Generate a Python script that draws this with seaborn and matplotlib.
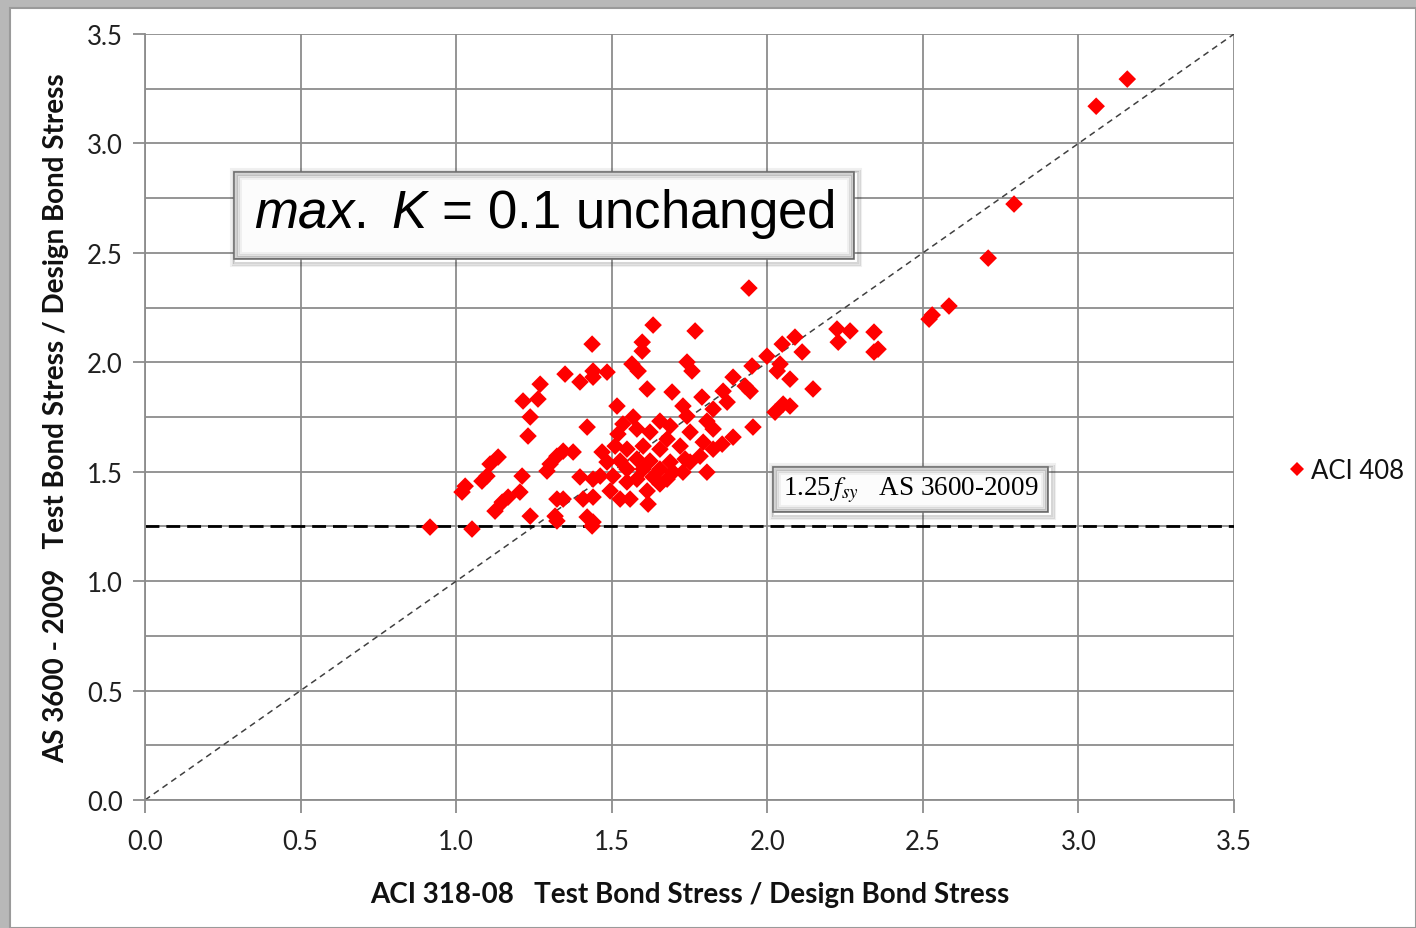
import matplotlib
matplotlib.use("Agg")
import matplotlib.pyplot as plt
import matplotlib.patches as mpatches
import seaborn as sns
import pandas as pd
import numpy as np

# ---- data (ACI 318-08 ratio, AS 3600-2009 ratio) ----
aci318 = [
    1.270, 1.215, 1.263, 1.238, 1.231, 1.135, 1.109, 1.099, 1.083, 1.029,
    1.019, 1.212, 1.324, 1.302, 1.292, 1.205, 1.167, 1.148, 1.125, 1.238,
    1.324, 1.318, 1.324, 0.916, 1.051,
    1.633, 1.437, 1.598, 1.598, 1.565, 1.585, 1.350, 1.398, 1.440, 1.440,
    1.485, 1.614, 1.694, 1.517, 1.421, 1.569, 1.536, 1.655, 1.688, 1.520,
    1.581, 1.623, 1.678, 1.344, 1.376, 1.469, 1.511, 1.549, 1.601, 1.655,
    1.485, 1.527, 1.581, 1.623, 1.688, 1.549, 1.601, 1.655, 1.697, 1.398,
    1.440, 1.504, 1.581, 1.633, 1.678, 1.549, 1.495, 1.614, 1.655, 1.559,
    1.527, 1.408, 1.440, 1.617, 1.344, 1.421, 1.440, 1.463, 1.437,
    1.768, 1.742, 1.758, 1.890, 1.929, 1.945, 1.858, 1.871, 1.790, 1.729,
    1.826, 1.742, 1.806, 1.826, 1.752, 1.890, 1.855, 1.826, 1.794, 1.784,
    1.736, 1.752, 1.806, 1.729, 1.720, 1.954, 1.951, 1.999, 2.048, 2.089,
    2.112, 2.041, 2.032, 2.073, 2.147, 2.051, 2.025, 2.073,
    1.941, 2.224, 2.266, 2.228, 2.343, 2.343, 2.356, 2.520, 2.530, 2.584,
    2.710, 2.793, 3.057, 3.157,
]
as3600 = [
    1.900, 1.823, 1.832, 1.750, 1.663, 1.567, 1.535, 1.480, 1.457, 1.434,
    1.407, 1.480, 1.571, 1.535, 1.503, 1.407, 1.384, 1.361, 1.320, 1.297,
    1.375, 1.297, 1.275, 1.247, 1.238,
    2.170, 2.083, 2.092, 2.051, 1.992, 1.960, 1.946, 1.910, 1.960, 1.932,
    1.955, 1.878, 1.864, 1.800, 1.704, 1.750, 1.718, 1.731, 1.709, 1.672,
    1.695, 1.681, 1.649, 1.594, 1.590, 1.590, 1.617, 1.603, 1.617, 1.603,
    1.544, 1.549, 1.558, 1.549, 1.544, 1.512, 1.512, 1.512, 1.498, 1.476,
    1.466, 1.480, 1.466, 1.476, 1.466, 1.453, 1.412, 1.412, 1.444, 1.375,
    1.375, 1.375, 1.384, 1.352, 1.375, 1.293, 1.270, 1.480, 1.252,
    2.143, 2.001, 1.960, 1.932, 1.891, 1.868, 1.868, 1.818, 1.841, 1.800,
    1.786, 1.754, 1.731, 1.695, 1.681, 1.658, 1.626, 1.603, 1.635, 1.571,
    1.558, 1.544, 1.498, 1.498, 1.617, 1.704, 1.983, 2.028, 2.083, 2.115,
    2.047, 1.992, 1.960, 1.923, 1.878, 1.809, 1.772, 1.800,
    2.339, 2.152, 2.143, 2.092, 2.138, 2.047, 2.060, 2.197, 2.216, 2.257,
    2.476, 2.723, 3.170, 3.294,
]
series_name = "ACI 408"
limit_value = 1.25
x_ticks = [0.0, 0.5, 1.0, 1.5, 2.0, 2.5, 3.0, 3.5]
y_ticks = [0.0, 0.5, 1.0, 1.5, 2.0, 2.5, 3.0, 3.5]
x_label = "ACI 318-08   Test Bond Stress / Design Bond Stress"
y_label = "AS 3600 - 2009   Test Bond Stress / Design Bond Stress"

df = pd.DataFrame({"aci": aci318, "as": as3600, "series": series_name})

sns.set_theme(style="white")
plt.rcParams["font.family"] = ["Lato", "DejaVu Sans"]
plt.rcParams["mathtext.fontset"] = "custom"
plt.rcParams["mathtext.rm"] = "Liberation Sans"
plt.rcParams["mathtext.it"] = "Liberation Sans:italic"

W, H = 1416, 929
fig = plt.figure(figsize=(W / 100, H / 100), dpi=100, facecolor="#b8b8b8")
# white page inside grey frame
page = mpatches.Rectangle((10 / W, 0), 1 - 10 / W, 1 - 9 / H,
                          transform=fig.transFigure, facecolor="white",
                          edgecolor="#9a9a9a", linewidth=1.5, zorder=-10)
fig.patches.append(page)

ax = fig.add_axes([145 / W, 1 - 801 / H, (1234 - 145) / W, (801 - 35) / H])
ax.set_zorder(1)
ax.set_facecolor("white")

ax.set_xlim(0, 3.5)
ax.set_ylim(0, 3.5)
ax.set_xticks(x_ticks)
ax.set_yticks(y_ticks)
ax.set_yticks(np.arange(0.25, 3.5, 0.5), minor=True)
ax.set_xticklabels([f"{v:.1f}" for v in x_ticks])
ax.set_yticklabels([f"{v:.1f}" for v in y_ticks])
ax.grid(True, which="major", color="#8c8c8c", linewidth=1.3)
ax.grid(True, which="minor", axis="y", color="#8c8c8c", linewidth=1.3)
ax.set_axisbelow(True)
for s in ["top", "right"]:
    ax.spines[s].set_visible(False)
for s in ["left", "bottom"]:
    ax.spines[s].set_color("#8c8c8c")
    ax.spines[s].set_linewidth(1.3)
ax.tick_params(axis="both", which="major", direction="out", length=9,
               width=1.3, color="#8c8c8c", labelsize=18.5, labelcolor="#202020",
               left=True, bottom=True)
ax.tick_params(axis="x", pad=12)
ax.tick_params(axis="y", pad=7)
ax.tick_params(which="minor", length=0)

# reference lines
ax.plot([0, 3.5], [0, 3.5], linestyle=(0, (4, 3)), color="#404040",
        linewidth=1.1, zorder=2)
ax.plot([0, 3.5], [limit_value, limit_value], linestyle=(0, (5, 2.5)),
        color="black", linewidth=2.0, zorder=2)

sns.scatterplot(data=df, x="aci", y="as", hue="series", palette=["#ff0000"],
                marker="D", s=80, linewidth=0, ax=ax, zorder=3, legend=True)

ax.set_xlabel(x_label, fontsize=20, fontweight="bold", color="#111111",
              labelpad=19)
ax.set_ylabel(y_label, fontsize=20, fontweight="bold", color="#111111",
              labelpad=13)

leg = ax.legend(loc="center left", bbox_to_anchor=(1.046, 0.43),
                frameon=False, fontsize=18.5, handletextpad=0.05,
                markerscale=0.8, borderaxespad=0, borderpad=0,
                handlelength=1.0)
for t in leg.get_texts():
    t.set_color("#111111")

# annotation boxes with soft shadow
def shadow_box(x0, y0, x1, y1):
    for k, a in [(5, 0.06), (3.5, 0.10), (2, 0.16)]:
        fig.patches.append(mpatches.Rectangle(
            ((x0 - k + 2) / W, 1 - (y1 + k + 2) / H), (x1 - x0 + 2 * k) / W,
            (y1 - y0 + 2 * k) / H, transform=fig.transFigure,
            facecolor="none", edgecolor=(0, 0, 0, a), linewidth=1.5,
            zorder=5))
    fig.patches.append(mpatches.Rectangle(
        (x0 / W, 1 - y1 / H), (x1 - x0) / W, (y1 - y0) / H,
        transform=fig.transFigure, facecolor="#fcfcfc", edgecolor="#707070",
        linewidth=1.2, zorder=6))
    for k, a in [(2, 0.18), (4, 0.10), (6, 0.05)]:
        fig.patches.append(mpatches.Rectangle(
            ((x0 + k) / W, 1 - (y1 - k) / H), (x1 - x0 - 2 * k) / W,
            (y1 - y0 - 2 * k) / H, transform=fig.transFigure,
            facecolor="none", edgecolor=(0, 0, 0, a), linewidth=2,
            zorder=6.5))

shadow_box(234, 173, 854, 260)
fig.text((234 + 854) / 2 / W, 1 - 214 / H,
         r"$\mathit{max.}$ $\mathit{K}$ = 0.1 unchanged",
         ha="center", va="center", fontsize=38, family="Liberation Sans",
         math_fontfamily="custom", color="black", zorder=7)

shadow_box(773, 468, 1048, 513)
fig.text((773 + 1048) / 2 / W, 1 - 490 / H,
         r"1.25$\,f_{sy}$   AS 3600-2009",
         ha="center", va="center", fontsize=19.5, family="Liberation Serif",
         math_fontfamily="stix", color="black", zorder=7)

fig.savefig("out.png", dpi=100, facecolor=fig.get_facecolor())
